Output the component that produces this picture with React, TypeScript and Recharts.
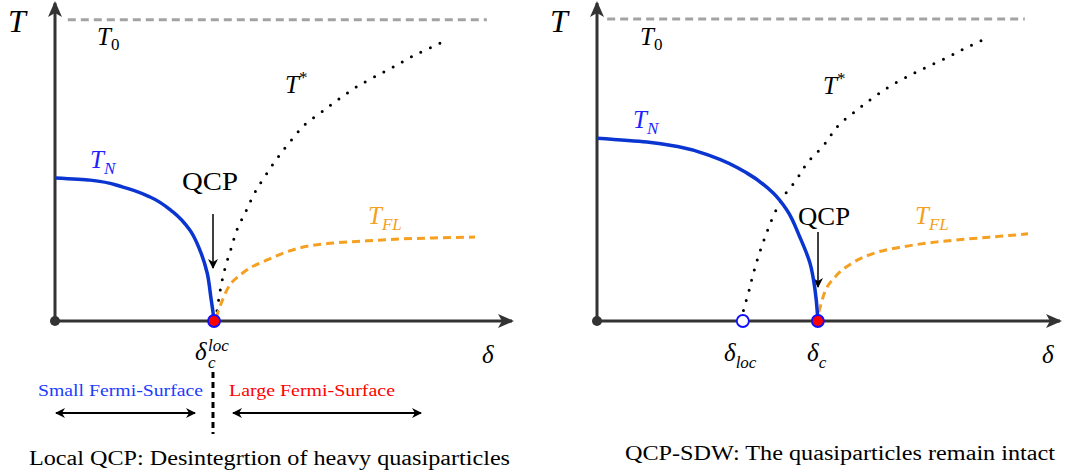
import React from "react";
import { ComposedChart, Line, XAxis, YAxis, ReferenceLine, ReferenceDot } from "recharts";

// schematic units: delta and T both run 0..1 along each axis (1 = arrow tip)
const leftTN: [number, number][] = [
  [0, 0.45], [0.077, 0.443], [0.149, 0.421], [0.208, 0.39], [0.258, 0.343],
  [0.295, 0.286], [0.317, 0.223], [0.333, 0.151], [0.341, 0.075], [0.346, 0.025], [0.348, 0],
];
const leftTStar: [number, number][] = [
  [0.35, 0], [0.354, 0.028], [0.359, 0.075], [0.365, 0.123], [0.374, 0.176], [0.385, 0.226],
  [0.398, 0.286], [0.418, 0.346], [0.438, 0.406], [0.464, 0.465], [0.49, 0.519], [0.519, 0.572],
  [0.551, 0.623], [0.586, 0.66], [0.624, 0.701], [0.663, 0.739], [0.702, 0.77], [0.744, 0.802],
  [0.783, 0.833], [0.825, 0.862], [0.847, 0.877],
];
const leftTFL: [number, number][] = [
  [0.352, 0.009], [0.376, 0.097], [0.411, 0.151], [0.464, 0.192], [0.536, 0.23],
  [0.608, 0.245], [0.683, 0.252], [0.755, 0.258], [0.827, 0.261], [0.919, 0.264],
];
const leftT0: [number, number][] = [[0.028, 0.947], [0.945, 0.947]];
const leftQcp = 0.348;

const rightTN: [number, number][] = [
  [0, 0.575], [0.108, 0.563], [0.179, 0.547], [0.251, 0.516], [0.324, 0.465], [0.38, 0.403],
  [0.41, 0.349], [0.438, 0.264], [0.46, 0.182], [0.471, 0.097], [0.476, 0.025], [0.477, 0],
];
const rightTStar: [number, number][] = [
  [0.315, 0], [0.317, 0.041], [0.324, 0.072], [0.335, 0.135], [0.348, 0.201], [0.363, 0.264],
  [0.38, 0.327], [0.402, 0.39], [0.43, 0.443], [0.456, 0.5], [0.488, 0.55], [0.527, 0.623],
  [0.562, 0.664], [0.598, 0.704], [0.637, 0.742], [0.678, 0.774], [0.717, 0.802], [0.758, 0.83],
  [0.801, 0.862], [0.842, 0.89],
];
const rightTFL: [number, number][] = [
  [0.479, 0.028], [0.492, 0.091], [0.514, 0.138], [0.551, 0.182], [0.6, 0.214],
  [0.659, 0.233], [0.73, 0.248], [0.801, 0.258], [0.875, 0.267], [0.931, 0.274],
];
const rightT0: [number, number][] = [[0.022, 0.95], [0.924, 0.95]];
const rightQcp = 0.477;
const rightLoc = 0.315;

const rows = (pts: [number, number][]) => pts.map(([d, T]) => ({ d, T }));

const BLUE = "#0a35d0";
const ORANGE = "#f5a020";
const GREY = "#a3a3a3";
const AXIS = "#333333";

const axisShape = (p: any) => (
  <line x1={p.x1} y1={p.y1} x2={p.x2} y2={p.y2} stroke={AXIS} strokeWidth={3} markerEnd="url(#axisHead)" />
);

function Phase({ tn, tstar, tfl, t0, qcp, loc, width, margin }: any) {
  return (
    <ComposedChart width={width} height={476} margin={margin}>
      <XAxis type="number" dataKey="d" domain={[0, 1]} hide allowDataOverflow />
      <YAxis type="number" dataKey="T" domain={[0, 1]} hide allowDataOverflow />
      <ReferenceLine segment={[{ x: 0, y: 0 }, { x: 1, y: 0 }]} shape={axisShape} />
      <ReferenceLine segment={[{ x: 0, y: 0 }, { x: 0, y: 1 }]} shape={axisShape} />
      <Line data={rows(t0)} dataKey="T" type="linear" stroke={GREY} strokeWidth={3} strokeDasharray="8 5" dot={false} isAnimationActive={false} />
      <Line data={rows(tstar)} dataKey="T" type="monotoneY" stroke="#000" strokeWidth={3} strokeLinecap="round" strokeDasharray="0 10.5" dot={false} isAnimationActive={false} />
      <Line data={rows(tfl)} dataKey="T" type="monotone" stroke={ORANGE} strokeWidth={3} strokeDasharray="8 5" dot={false} isAnimationActive={false} />
      <Line data={rows(tn)} dataKey="T" type="monotoneY" stroke={BLUE} strokeWidth={3.5} dot={false} isAnimationActive={false} />
      <ReferenceDot x={0} y={0} r={5} fill={AXIS} stroke="none" />
      {loc !== undefined && <ReferenceDot x={loc} y={0} r={6} fill="#fff" stroke="#1010ff" strokeWidth={1.8} />}
      <ReferenceDot x={qcp} y={0} r={6} fill="#ff0000" stroke="#1010ff" strokeWidth={1.8} />
    </ComposedChart>
  );
}

const math = { fontFamily: "'Liberation Serif', serif", fontStyle: "italic" } as const;
const roman = { fontFamily: "'Liberation Serif', serif" } as const;

function Labels() {
  return (
    <svg width={1065} height={476} style={{ position: "absolute", left: 0, top: 0, pointerEvents: "none" }}>
      <defs>
        <marker id="axisHead" markerUnits="userSpaceOnUse" markerWidth={16} markerHeight={14} refX={14} refY={7} orient="auto">
          <path d="M0,0 L16,7 L0,14 L4,7 Z" fill={AXIS} />
        </marker>
        <marker id="smallHead" markerUnits="userSpaceOnUse" markerWidth={10} markerHeight={10} refX={9} refY={5} orient="auto-start-reverse">
          <path d="M0,0 L10,5 L0,10 L3,5 Z" fill="#000" />
        </marker>
      </defs>

      {/* left panel */}
      <text x={8} y={32} fontSize={32} {...math}>T</text>
      <text x={97} y={45} fontSize={25} {...math}>T<tspan fontStyle="normal" fontSize={17} dy={5}>0</tspan></text>
      <text x={285} y={93} fontSize={25} {...math}>T<tspan fontStyle="normal" fontSize={17} dy={-10}>*</tspan></text>
      <text x={90} y={168} fontSize={25} fill="#1f1fff" {...math}>T<tspan fontSize={17} dy={6}>N</tspan></text>
      <text x={210} y={190} fontSize={25} textAnchor="middle" textLength={56} lengthAdjust="spacingAndGlyphs" {...roman}>QCP</text>
      <line x1={213} y1={214} x2={213} y2={268} stroke="#000" strokeWidth={1.5} markerEnd="url(#smallHead)" />
      <text x={368} y={224} fontSize={25} fill={ORANGE} {...math}>T<tspan fontSize={17} dy={6}>FL</tspan></text>
      <text x={195} y={360} fontSize={25} {...math}>δ</text>
      <text x={208} y={351} fontSize={17} {...math}>loc</text>
      <text x={208} y={368} fontSize={17} {...math}>c</text>
      <text x={482} y={363} fontSize={25} {...math}>δ</text>
      <text x={38} y={396} fontSize={17} fill="#1a3cff" textLength={165} lengthAdjust="spacingAndGlyphs" {...roman}>Small Fermi-Surface</text>
      <text x={229} y={396} fontSize={17} fill="#ff0000" textLength={166} lengthAdjust="spacingAndGlyphs" {...roman}>Large Fermi-Surface</text>
      <line x1={213} y1={372} x2={213} y2={434} stroke="#000" strokeWidth={3} strokeDasharray="6 4" />
      <line x1={56} y1={413} x2={195} y2={413} stroke="#000" strokeWidth={2} markerStart="url(#smallHead)" markerEnd="url(#smallHead)" />
      <line x1={233} y1={413} x2={421} y2={413} stroke="#000" strokeWidth={2} markerStart="url(#smallHead)" markerEnd="url(#smallHead)" />
      <text x={29} y={465} fontSize={20} textLength={481} lengthAdjust="spacingAndGlyphs" {...roman}>Local QCP: Desintegrtion of heavy quasiparticles</text>

      {/* right panel */}
      <text x={550} y={32} fontSize={32} {...math}>T</text>
      <text x={640} y={45} fontSize={25} {...math}>T<tspan fontStyle="normal" fontSize={17} dy={5}>0</tspan></text>
      <text x={823} y={94} fontSize={25} {...math}>T<tspan fontStyle="normal" fontSize={17} dy={-10}>*</tspan></text>
      <text x={633} y={128} fontSize={25} fill="#1f1fff" {...math}>T<tspan fontSize={17} dy={6}>N</tspan></text>
      <text x={824} y={225} fontSize={25} textAnchor="middle" textLength={52} lengthAdjust="spacingAndGlyphs" {...roman}>QCP</text>
      <line x1={818} y1={232} x2={818} y2={287} stroke="#000" strokeWidth={1.5} markerEnd="url(#smallHead)" />
      <text x={915} y={224} fontSize={25} fill={ORANGE} {...math}>T<tspan fontSize={17} dy={6}>FL</tspan></text>
      <text x={724} y={361} fontSize={25} {...math}>δ<tspan fontSize={17} dy={7}>loc</tspan></text>
      <text x={807} y={361} fontSize={25} {...math}>δ<tspan fontSize={17} dy={7}>c</tspan></text>
      <text x={1042} y={363} fontSize={25} {...math}>δ</text>
      <text x={625} y={460} fontSize={20} textLength={430} lengthAdjust="spacingAndGlyphs" {...roman}>QCP-SDW: The quasiparticles remain intact</text>
    </svg>
  );
}

export default function App() {
  return (
    <div style={{ position: "absolute", left: 0, top: 0, width: 1065, height: 476, background: "#fff" }}>
      <Labels />
      <div style={{ position: "absolute", left: 0, top: 0 }}>
        <Phase tn={leftTN} tstar={leftTStar} tfl={leftTFL} t0={leftT0} qcp={leftQcp}
          width={530} margin={{ top: 3, left: 55, right: 18, bottom: 155 }} />
      </div>
      <div style={{ position: "absolute", left: 540, top: 0 }}>
        <Phase tn={rightTN} tstar={rightTStar} tfl={rightTFL} t0={rightT0} qcp={rightQcp} loc={rightLoc}
          width={525} margin={{ top: 3, left: 57, right: 5, bottom: 155 }} />
      </div>
    </div>
  );
}
